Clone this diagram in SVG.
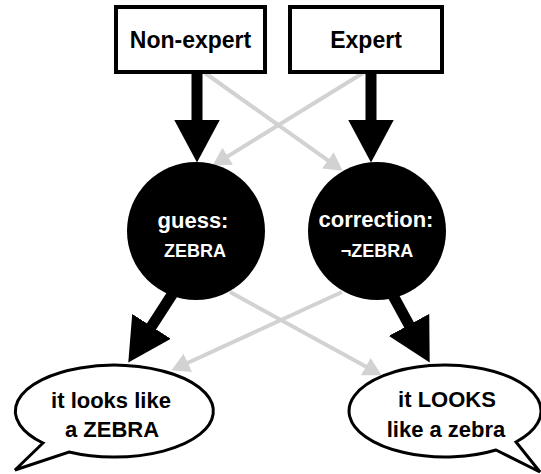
<svg xmlns="http://www.w3.org/2000/svg" width="541" height="474" viewBox="0 0 541 474">
  <style>
    .box { fill: #ffffff; stroke: #000000; stroke-width: 4; }
    .bubble { fill: #ffffff; stroke: #000000; stroke-width: 3; stroke-linejoin: miter; }
    .circ { fill: #000000; }
    .t { font-family: "Liberation Sans", Arial, Helvetica, sans-serif; font-weight: bold; text-anchor: middle; }
    .dark { fill: #000000; font-size: 23px; }
    .bub { fill: #000000; font-size: 22px; }
    .w1 { fill: #ffffff; font-size: 22px; }
    .w2 { fill: #ffffff; font-size: 18px; }
    .blk { stroke: #000000; stroke-width: 11; fill: none; marker-end: url(#hb); }
    .gry { stroke: #d2d2d2; stroke-width: 4; fill: none; marker-end: url(#hg); }
  </style>
  <defs>
    <marker id="hb" markerUnits="userSpaceOnUse" viewBox="0 0 43 46" markerWidth="43" markerHeight="46" refX="0.5" refY="23" orient="auto">
      <path d="M0,0 L43,23 L0,46 Z" fill="#000000"/>
    </marker>
    <marker id="hg" markerUnits="userSpaceOnUse" viewBox="0 0 18 20" markerWidth="18" markerHeight="20" refX="0.5" refY="10" orient="auto">
      <path d="M0,0 L18,10 L0,20 Z" fill="#d2d2d2"/>
    </marker>
  </defs>
  <rect width="541" height="474" fill="#ffffff"/>
  <g id="connectors">
    <path class="gry" d="M205,73 L328.3,160.6"/>
    <path class="gry" d="M363,73 L227.3,156.6"/>
    <path class="gry" d="M230,292 L366.2,366.8"/>
    <path class="gry" d="M342,292 L187.4,363"/>
    <path class="blk" d="M197,74 L197,120"/>
    <path class="blk" d="M371,74 L371,120"/>
    <path class="blk" d="M175,290 L151.3,326.8"/>
    <path class="blk" d="M390,290 L409.3,325.3"/>
  </g>
  <g id="nonexpert">
    <rect class="box" x="116" y="7" width="149" height="65"/>
    <text class="t dark" x="190.5" y="48">Non-expert</text>
  </g>
  <g id="expert">
    <rect class="box" x="290" y="7" width="152" height="65"/>
    <text class="t dark" x="366" y="48">Expert</text>
  </g>
  <g id="guess">
    <circle class="circ" cx="196" cy="231" r="69"/>
    <text class="t w1" x="193" y="228">guess:</text>
    <text class="t w2" x="195" y="257">ZEBRA</text>
  </g>
  <g id="correction">
    <circle class="circ" cx="377" cy="231" r="69"/>
    <text class="t w1" x="376" y="227">correction:</text>
    <text class="t w2" x="377" y="257">¬ZEBRA</text>
  </g>
  <g id="bubble-left">
    <path class="bubble" d="M69,452 A99,46 0 1 0 43,443 L15,470 Z"/>
    <text class="t bub" x="111" y="408">it looks like</text>
    <text class="t bub" x="112" y="437">a ZEBRA</text>
  </g>
  <g id="bubble-right">
    <path class="bubble" d="M496,450 A96,46 0 1 1 516,442 L540,472 Z"/>
    <text class="t bub" x="447" y="407">it LOOKS</text>
    <text class="t bub" x="446" y="437">like a zebra</text>
  </g>
</svg>
